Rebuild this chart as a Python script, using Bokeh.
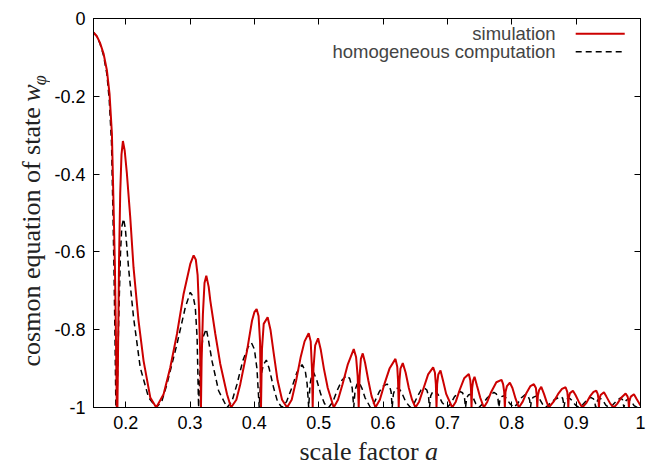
import math
from bokeh.plotting import figure
from bokeh.layouts import row, column
from bokeh.models import Range1d, LinearAxis, FixedTicker, Label
from bokeh.embed import file_html
from bokeh.resources import INLINE

# ---- data: (scale factor a, w_phi) ----
simulation = [
    (0.150, -0.036), (0.155, -0.045), (0.160, -0.062), (0.1656, -0.090), (0.1708, -0.133),
    (0.1749, -0.193), (0.1786, -0.296), (0.181, -0.468), (0.1833, -0.64), (0.1848, -0.81),
    (0.1862, -1.0), (0.1872, -1.0), (0.1885, -0.80), (0.1897, -0.62), (0.1915, -0.45),
    (0.1935, -0.35), (0.1957, -0.315), (0.1985, -0.34), (0.2019, -0.399), (0.2071, -0.511),
    (0.2122, -0.64), (0.2200, -0.777), (0.2278, -0.88), (0.2382, -0.974), (0.2475, -1.0),
    (0.2589, -0.966), (0.2693, -0.897), (0.2797, -0.811), (0.2900, -0.708), (0.3004, -0.631),
    (0.3056, -0.609), (0.3090, -0.62), (0.3118, -0.66), (0.3140, -0.75), (0.3160, -0.88),
    (0.3170, -1.0), (0.3180, -0.88), (0.3200, -0.76), (0.3225, -0.68), (0.3253, -0.661),
    (0.3290, -0.69), (0.3315, -0.725), (0.3393, -0.811), (0.3470, -0.888), (0.3575, -0.966),
    (0.3637, -1.0), (0.372, -0.98), (0.3781, -0.94), (0.3886, -0.854), (0.3963, -0.777),
    (0.400, -0.755), (0.4035, -0.747), (0.4065, -0.765), (0.4088, -0.83), (0.4103, -1.0),
    (0.4118, -0.85), (0.4145, -0.785), (0.4206, -0.768), (0.425, -0.80), (0.430, -0.86),
    (0.436, -0.93), (0.443, -0.98), (0.4508, -1.0), (0.458, -0.98), (0.465, -0.93),
    (0.472, -0.87), (0.478, -0.83), (0.4844, -0.809), (0.4875, -0.83), (0.4895, -0.90),
    (0.4906, -1.0), (0.4918, -0.90), (0.4945, -0.84), (0.499, -0.822), (0.503, -0.85),
    (0.508, -0.90), (0.514, -0.95), (0.5233, -1.0), (0.530, -0.98), (0.537, -0.94),
    (0.545, -0.89), (0.5544, -0.85), (0.558, -0.87), (0.5605, -0.92), (0.5621, -1.0),
    (0.5635, -0.92), (0.5655, -0.875), (0.5684, -0.861), (0.572, -0.885), (0.577, -0.93),
    (0.582, -0.97), (0.5881, -1.0), (0.595, -0.98), (0.602, -0.94), (0.610, -0.90),
    (0.6192, -0.875), (0.622, -0.895), (0.6232, -0.93), (0.6243, -1.0), (0.6255, -0.93),
    (0.627, -0.90), (0.6306, -0.886), (0.635, -0.91), (0.640, -0.95), (0.645, -0.98),
    (0.6503, -1.0), (0.656, -0.985), (0.662, -0.955), (0.670, -0.915), (0.6778, -0.897),
    (0.6805, -0.91), (0.682, -0.94), (0.683, -1.0), (0.684, -0.94), (0.6858, -0.915),
    (0.6892, -0.905), (0.693, -0.93), (0.698, -0.965), (0.7074, -1.0), (0.713, -0.985),
    (0.719, -0.955), (0.726, -0.925), (0.7332, -0.914), (0.7355, -0.93), (0.7365, -0.95),
    (0.7374, -1.0), (0.7384, -0.95), (0.740, -0.93), (0.7421, -0.921), (0.746, -0.945),
    (0.751, -0.975), (0.7565, -1.0), (0.762, -0.985), (0.768, -0.96), (0.776, -0.935),
    (0.7841, -0.929), (0.7865, -0.94), (0.7882, -0.96), (0.7892, -1.0), (0.7902, -0.96),
    (0.7925, -0.945), (0.797, -0.936), (0.801, -0.95), (0.806, -0.978), (0.811, -1.0),
    (0.817, -0.985), (0.823, -0.962), (0.829, -0.945), (0.8343, -0.94), (0.8375, -0.95),
    (0.8388, -0.97), (0.8396, -1.0), (0.8405, -0.97), (0.8425, -0.955), (0.8458, -0.947),
    (0.850, -0.965), (0.854, -0.985), (0.8576, -1.0), (0.865, -0.985), (0.872, -0.965),
    (0.878, -0.952), (0.8836, -0.948), (0.8862, -0.96), (0.8872, -0.975), (0.8878, -1.0),
    (0.8885, -0.975), (0.8905, -0.963), (0.895, -0.957), (0.899, -0.968), (0.904, -0.985),
    (0.9096, -1.0), (0.916, -0.988), (0.922, -0.97), (0.927, -0.96), (0.9313, -0.957),
    (0.9335, -0.965), (0.9347, -0.978), (0.9354, -1.0), (0.9362, -0.978), (0.938, -0.968),
    (0.9432, -0.961), (0.947, -0.972), (0.953, -0.99), (0.9587, -1.0), (0.964, -0.99),
    (0.970, -0.975), (0.9769, -0.964), (0.980, -0.972), (0.9812, -0.982), (0.982, -1.0),
    (0.9828, -0.982), (0.985, -0.972), (0.9898, -0.966), (0.994, -0.978), (1.0, -0.995),
]

homogeneous = [
    (0.150, -0.036), (0.155, -0.046), (0.160, -0.064), (0.1656, -0.095), (0.1708, -0.143),
    (0.1745, -0.21), (0.178, -0.32), (0.180, -0.48), (0.182, -0.66), (0.1835, -0.83),
    (0.1848, -1.0), (0.1865, -1.0), (0.188, -0.86), (0.190, -0.72), (0.192, -0.60),
    (0.194, -0.535), (0.1967, -0.515), (0.1995, -0.54), (0.2044, -0.64), (0.2122, -0.768),
    (0.2226, -0.897), (0.2355, -0.974), (0.2475, -1.0), (0.256, -0.985), (0.2641, -0.94),
    (0.2797, -0.837), (0.2926, -0.743), (0.3004, -0.704), (0.3050, -0.715), (0.3082, -0.743),
    (0.311, -0.82), (0.3133, -1.0), (0.316, -0.88), (0.320, -0.82), (0.3253, -0.798),
    (0.3290, -0.83), (0.3341, -0.88), (0.3444, -0.957), (0.3575, -1.0), (0.365, -0.985),
    (0.373, -0.94), (0.382, -0.88), (0.390, -0.845), (0.3955, -0.834), (0.400, -0.85),
    (0.404, -0.90), (0.4075, -1.0), (0.410, -0.92), (0.414, -0.89), (0.4186, -0.878),
    (0.423, -0.90), (0.430, -0.95), (0.436, -0.985), (0.443, -1.0), (0.450, -0.985),
    (0.458, -0.95), (0.466, -0.91), (0.4741, -0.89), (0.479, -0.905), (0.482, -0.94),
    (0.4844, -1.0), (0.4865, -0.94), (0.489, -0.918), (0.4921, -0.91), (0.497, -0.93),
    (0.503, -0.965), (0.509, -0.99), (0.5155, -1.0), (0.522, -0.985), (0.529, -0.955),
    (0.536, -0.93), (0.543, -0.918), (0.548, -0.925), (0.552, -0.95), (0.5544, -1.0),
    (0.5565, -0.955), (0.5595, -0.94), (0.5625, -0.935), (0.567, -0.95), (0.572, -0.975),
    (0.5803, -1.0), (0.587, -0.985), (0.594, -0.96), (0.600, -0.945), (0.6063, -0.94),
    (0.610, -0.945), (0.6125, -0.96), (0.6141, -1.0), (0.616, -0.965), (0.619, -0.952),
    (0.6243, -0.95), (0.629, -0.962), (0.635, -0.985), (0.6425, -1.0), (0.648, -0.99),
    (0.654, -0.97), (0.659, -0.955), (0.6643, -0.95), (0.668, -0.955), (0.6705, -0.97),
    (0.6721, -1.0), (0.674, -0.97), (0.677, -0.96), (0.6814, -0.956), (0.686, -0.968),
    (0.692, -0.988), (0.6996, -1.0), (0.705, -0.99), (0.711, -0.972), (0.7192, -0.959),
    (0.7235, -0.962), (0.7265, -0.975), (0.7281, -1.0), (0.730, -0.975), (0.7325, -0.968),
    (0.7359, -0.966), (0.740, -0.975), (0.744, -0.99), (0.7488, -1.0), (0.755, -0.99),
    (0.762, -0.975), (0.7721, -0.961), (0.776, -0.965), (0.7785, -0.978), (0.7799, -1.0),
    (0.7815, -0.98), (0.784, -0.972), (0.7877, -0.97), (0.792, -0.977), (0.797, -0.99),
    (0.8032, -1.0), (0.809, -0.99), (0.815, -0.975), (0.8214, -0.966), (0.825, -0.97),
    (0.8277, -0.98), (0.8291, -1.0), (0.8305, -0.982), (0.833, -0.974), (0.8385, -0.97),
    (0.843, -0.978), (0.848, -0.992), (0.8525, -1.0), (0.859, -0.99), (0.866, -0.98),
    (0.8758, -0.972), (0.879, -0.976), (0.880, -0.985), (0.881, -1.0), (0.8825, -0.985),
    (0.885, -0.978), (0.8898, -0.976), (0.894, -0.983), (0.899, -0.994), (0.9043, -1.0),
    (0.910, -0.993), (0.916, -0.982), (0.9225, -0.974), (0.927, -0.978), (0.929, -0.987),
    (0.9303, -1.0), (0.9318, -0.987), (0.934, -0.98), (0.938, -0.977), (0.942, -0.983),
    (0.946, -0.994), (0.9509, -1.0), (0.957, -0.993), (0.963, -0.983), (0.9691, -0.975),
    (0.972, -0.98), (0.973, -0.988), (0.9742, -1.0), (0.9757, -0.988), (0.978, -0.981),
    (0.982, -0.978), (0.986, -0.985), (0.990, -0.995), (0.9949, -1.0), (1.0, -0.995),
]

sim_a = [p[0] for p in simulation]
sim_w = [p[1] for p in simulation]
hom_a = [p[0] for p in homogeneous]
hom_w = [p[1] for p in homogeneous]

x_ticks = [0.2, 0.3, 0.4, 0.5, 0.6, 0.7, 0.8, 0.9, 1]
x_tick_labels = ["0.2", "0.3", "0.4", "0.5", "0.6", "0.7", "0.8", "0.9", "1"]
y_ticks = [-1, -0.8, -0.6, -0.4, -0.2, 0]
y_tick_labels = ["-1", "-0.8", "-0.6", "-0.4", "-0.2", "0"]
series_names = ["simulation", "homogeneous computation"]

RED = "#cc0000"
SANS = "Liberation Sans"
SERIF = "Liberation Serif"
LABEL_COLOR = "#222222"

# ---------------- main plot ----------------
p = figure(width=618, height=436, output_backend="svg", toolbar_location=None,
           x_range=Range1d(0.15, 1.0), y_range=Range1d(-1.0, 0.0),
           min_border_left=43, min_border_right=28, min_border_top=18, min_border_bottom=29,
           background_fill_color="white", border_fill_color="white")
p.xgrid.visible = False
p.ygrid.visible = False
p.outline_line_color = "black"
p.outline_line_width = 1


def style_axis(ax, ticks, labels):
    ax.ticker = FixedTicker(ticks=ticks)
    ax.major_label_overrides = {t: l for t, l in zip(ticks, labels)}
    ax.major_tick_in = 6
    ax.major_tick_out = 0
    ax.minor_tick_in = 0
    ax.minor_tick_out = 0
    ax.axis_line_color = "black"
    ax.major_tick_line_color = "black"
    ax.major_label_text_font = SANS
    ax.major_label_text_font_size = "18px"
    ax.major_label_text_color = "black"


style_axis(p.xaxis[0], x_ticks, x_tick_labels)
style_axis(p.yaxis[0], y_ticks, y_tick_labels)
p.xaxis[0].major_label_standoff = 8
p.yaxis[0].major_label_standoff = 8

top = LinearAxis()
style_axis(top, x_ticks, [""] * len(x_ticks))
top.major_label_standoff = 0
p.add_layout(top, "above")
right = LinearAxis()
style_axis(right, y_ticks, [""] * len(y_ticks))
right.major_label_standoff = 0
p.add_layout(right, "right")

p.line(hom_a, hom_w, line_color="black", line_width=1.5, line_dash="6 4")
p.line(sim_a, sim_w, line_color=RED, line_width=2)

# legend (gnuplot style: text left, sample right)
leg_y = [-0.0391, -0.0853]
for name, yy in zip(series_names, leg_y):
    p.add_layout(Label(x=0.8681, y=yy, text=name, text_align="right",
                       text_baseline="middle", text_font=SANS, text_font_size="18.5px"))
p.line([0.8993, 0.9755], [leg_y[0], leg_y[0]], line_color=RED, line_width=2)
p.line([0.8993, 0.9755], [leg_y[1], leg_y[1]], line_color="black", line_width=1.5,
       line_dash="6 4")


# ---------------- axis-title strips ----------------
def strip(w, h, y_range):
    f = figure(width=w, height=h, output_backend="svg", toolbar_location=None,
               x_range=Range1d(0, w), y_range=y_range,
               x_axis_type=None, y_axis_type=None, min_border=0,
               background_fill_color="white", border_fill_color="white")
    f.outline_line_color = None
    f.xgrid.visible = False
    f.ygrid.visible = False
    return f


# left strip: its frame lines up with the main frame, so y is in w units
ylab = strip(50, 436, Range1d(-1.0, 0.0))
ylab.add_layout(Label(x=31, y=-0.8945, text="cosmon equation of state", angle=math.pi / 2,
                      text_font=SERIF, text_font_size="26px", text_color=LABEL_COLOR,
                      text_baseline="middle"))
ylab.add_layout(Label(x=31, y=-0.2143, text="w", angle=math.pi / 2,
                      text_font=SERIF, text_font_style="italic", text_font_size="26px",
                      text_color=LABEL_COLOR, text_baseline="middle"))
ylab.add_layout(Label(x=39, y=-0.1713, text="φ", angle=math.pi / 2,
                      text_font=SERIF, text_font_style="italic", text_font_size="18px",
                      text_color=LABEL_COLOR, text_baseline="middle"))

# bottom strip: pixel units, y from the strip's bottom
xlab = strip(668, 30, Range1d(0, 30))
xlab.add_layout(Label(x=299, y=14.8, text="scale factor", text_font=SERIF,
                      text_font_size="26px", text_color=LABEL_COLOR, text_baseline="middle"))
xlab.add_layout(Label(x=424.5, y=14.8, text="a", text_font=SERIF, text_font_style="italic",
                      text_font_size="26px", text_color=LABEL_COLOR, text_baseline="middle"))

layout = column(row(ylab, p), xlab)
open("out.html", "w").write(file_html(layout, INLINE))
